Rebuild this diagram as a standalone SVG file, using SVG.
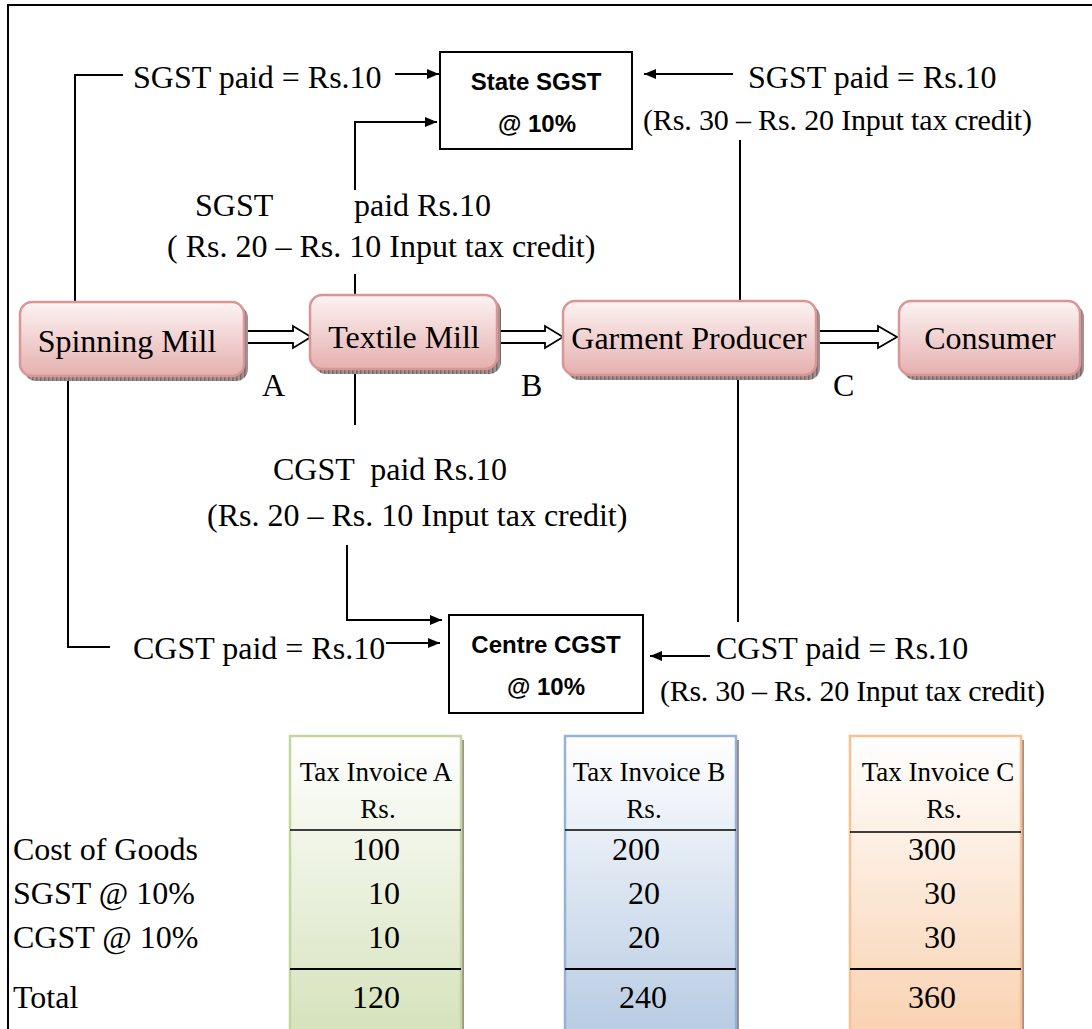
<svg xmlns="http://www.w3.org/2000/svg" width="1092" height="1029" viewBox="0 0 1092 1029">
<style>
.t{font-family:"Liberation Serif","Times New Roman",serif;font-size:32px;fill:#000;white-space:pre}
.s{font-size:30px}
.th{font-family:"Liberation Serif","Times New Roman",serif;font-size:27px;fill:#000}
.b{font-family:"Liberation Sans",Arial,sans-serif;font-weight:bold;font-size:24px;fill:#000;text-anchor:middle}
.ln{fill:none;stroke:#000;stroke-width:2}
.node{fill:url(#pink);stroke:#d99694;stroke-width:2.5}
.shadow{fill:url(#hatch)}
.blk{fill:#fff;stroke:#000;stroke-width:1.8}
.box{fill:#fff;stroke:#000;stroke-width:2}
.mid{text-anchor:middle}
.end{text-anchor:end}
</style>
<defs>
<linearGradient id="pink" x1="0" y1="0" x2="0" y2="1">
<stop offset="0" stop-color="#fdf3f3"/><stop offset="1" stop-color="#e5b0af"/>
</linearGradient>
<linearGradient id="gA" x1="0" y1="0" x2="0" y2="1">
<stop offset="0" stop-color="#ffffff"/><stop offset="1" stop-color="#d5e2bb"/>
</linearGradient>
<linearGradient id="gB" x1="0" y1="0" x2="0" y2="1">
<stop offset="0" stop-color="#ffffff"/><stop offset="1" stop-color="#b7cbe3"/>
</linearGradient>
<linearGradient id="gC" x1="0" y1="0" x2="0" y2="1">
<stop offset="0" stop-color="#ffffff"/><stop offset="1" stop-color="#f9d1b0"/>
</linearGradient>
<pattern id="hatch" width="4" height="4" patternUnits="userSpaceOnUse">
<rect width="4" height="4" fill="#a09292"/><rect width="1.5" height="4" fill="#786868"/>
</pattern>
<marker id="ah" viewBox="0 0 12 10" refX="12" refY="5" markerWidth="12" markerHeight="10" markerUnits="userSpaceOnUse" orient="auto">
<path d="M0,0 L12,5 L0,10 z" fill="#000"/>
</marker>
</defs>
<rect x="8" y="5" width="1100" height="1040" fill="none" stroke="#000" stroke-width="2"/>

<g id="connectors">
<polyline class="ln" points="75,302 75,75 123,75"/>
<line class="ln" x1="395" y1="74" x2="439" y2="74" marker-end="url(#ah)"/>
<line class="ln" x1="355" y1="295" x2="355" y2="274"/>
<polyline class="ln" points="355,190 355,122 437,122" marker-end="url(#ah)"/>
<line class="ln" x1="740" y1="301" x2="740" y2="140"/>
<line class="ln" x1="733" y1="74" x2="644" y2="74" marker-end="url(#ah)"/>
<line class="ln" x1="355" y1="373" x2="355" y2="425"/>
<polyline class="ln" points="347,545 347,620 442,620" marker-end="url(#ah)"/>
<polyline class="ln" points="68,378 68,647 110,647"/>
<line class="ln" x1="386" y1="643" x2="440" y2="643" marker-end="url(#ah)"/>
<line class="ln" x1="738" y1="378" x2="738" y2="622"/>
<line class="ln" x1="710" y1="656" x2="650" y2="656" marker-end="url(#ah)"/>
<path class="blk" d="M244,331 H293 V326 L311,337 L293,348 V343 H244 z"/>
<path class="blk" d="M497,331 H545 V326 L563,337 L545,348 V343 H497 z"/>
<path class="blk" d="M818,331 H878 V326 L897,337 L878,348 V343 H818 z"/>
<text class="t" x="133" y="88">SGST paid = Rs.10</text>
<text class="t" x="748" y="88">SGST paid = Rs.10</text>
<text class="t s" x="643" y="130" textLength="389" lengthAdjust="spacing">(Rs. 30 – Rs. 20 Input tax credit)</text>
<text class="t" x="195" y="216">SGST</text>
<text class="t" x="354" y="216">paid Rs.10</text>
<text class="t" x="167" y="257">( Rs. 20 – Rs. 10 Input tax credit)</text>
<text class="t" x="273" y="480">CGST  paid Rs.10</text>
<text class="t" x="207" y="526">(Rs. 20 – Rs. 10 Input tax credit)</text>
<text class="t" x="133" y="659">CGST paid = Rs.10</text>
<text class="t" x="716" y="659">CGST paid = Rs.10</text>
<text class="t s" x="660" y="701" textLength="385" lengthAdjust="spacing">(Rs. 30 – Rs. 20 Input tax credit)</text>
<text class="t" x="262" y="396">A</text>
<text class="t" x="521" y="396">B</text>
<text class="t" x="833" y="396">C</text>
</g>

<g id="spinning-mill">
<rect class="shadow" x="24" y="306" width="224" height="75" rx="12"/>
<rect class="node" x="20" y="302" width="224" height="74" rx="12"/>
<text class="t mid" x="127" y="352">Spinning Mill</text>
</g>
<g id="textile-mill">
<rect class="shadow" x="314" y="299" width="187" height="75" rx="12"/>
<rect class="node" x="310" y="295" width="187" height="74" rx="12"/>
<text class="t mid" x="404" y="348">Textile Mill</text>
</g>
<g id="garment-producer">
<rect class="shadow" x="567" y="305" width="253" height="75" rx="12"/>
<rect class="node" x="563" y="301" width="253" height="74" rx="12"/>
<text class="t mid" x="689" y="349">Garment Producer</text>
</g>
<g id="consumer">
<rect class="shadow" x="903" y="305" width="181" height="75" rx="12"/>
<rect class="node" x="899" y="301" width="181" height="74" rx="12"/>
<text class="t mid" x="990" y="349">Consumer</text>
</g>

<g id="state-sgst">
<rect class="box" x="440" y="52" width="192" height="97"/>
<text class="b" x="536" y="90">State SGST</text>
<text class="b" x="537" y="132">@ 10%</text>
</g>
<g id="centre-cgst">
<rect class="box" x="449" y="615" width="194" height="98"/>
<text class="b" x="546" y="653">Centre CGST</text>
<text class="b" x="546" y="695">@ 10%</text>
</g>

<g id="invoice-table">
<rect x="461" y="740" width="3" height="300" fill="url(#hatch)"/>
<rect x="736" y="740" width="3" height="300" fill="url(#hatch)"/>
<rect x="1021" y="740" width="3" height="300" fill="url(#hatch)"/>
<rect x="290" y="736" width="171" height="300" fill="url(#gA)" stroke="#c3d69b" stroke-width="2.5"/>
<rect x="565" y="736" width="171" height="300" fill="url(#gB)" stroke="#95b3d7" stroke-width="2.5"/>
<rect x="850" y="736" width="171" height="300" fill="url(#gC)" stroke="#fac08f" stroke-width="2.5"/>
<line x1="290" y1="830" x2="461" y2="830" stroke="#000" stroke-width="1.5"/>
<line x1="565" y1="830" x2="736" y2="830" stroke="#000" stroke-width="1.5"/>
<line x1="850" y1="832" x2="1021" y2="832" stroke="#000" stroke-width="1.5"/>
<line x1="290" y1="969" x2="461" y2="969" stroke="#000" stroke-width="2"/>
<line x1="565" y1="969" x2="736" y2="969" stroke="#000" stroke-width="2"/>
<line x1="850" y1="969" x2="1021" y2="969" stroke="#000" stroke-width="2"/>
<text class="th mid" x="376" y="781">Tax Invoice A</text>
<text class="th mid" x="378" y="818">Rs.</text>
<text class="th mid" x="649" y="781">Tax Invoice B</text>
<text class="th mid" x="644" y="818">Rs.</text>
<text class="th mid" x="938" y="781">Tax Invoice C</text>
<text class="th mid" x="944" y="818">Rs.</text>
<text class="t" x="13" y="860">Cost of Goods</text>
<text class="t" x="13" y="904">SGST @ 10%</text>
<text class="t" x="13" y="948">CGST @ 10%</text>
<text class="t" x="13" y="1008">Total</text>
<text class="t end" x="400" y="860">100</text>
<text class="t end" x="400" y="904">10</text>
<text class="t end" x="400" y="948">10</text>
<text class="t end" x="400" y="1008">120</text>
<text class="t end" x="660" y="860">200</text>
<text class="t end" x="660" y="904">20</text>
<text class="t end" x="660" y="948">20</text>
<text class="t end" x="667" y="1008">240</text>
<text class="t end" x="956" y="860">300</text>
<text class="t end" x="956" y="904">30</text>
<text class="t end" x="956" y="948">30</text>
<text class="t end" x="956" y="1008">360</text>
</g>
</svg>
